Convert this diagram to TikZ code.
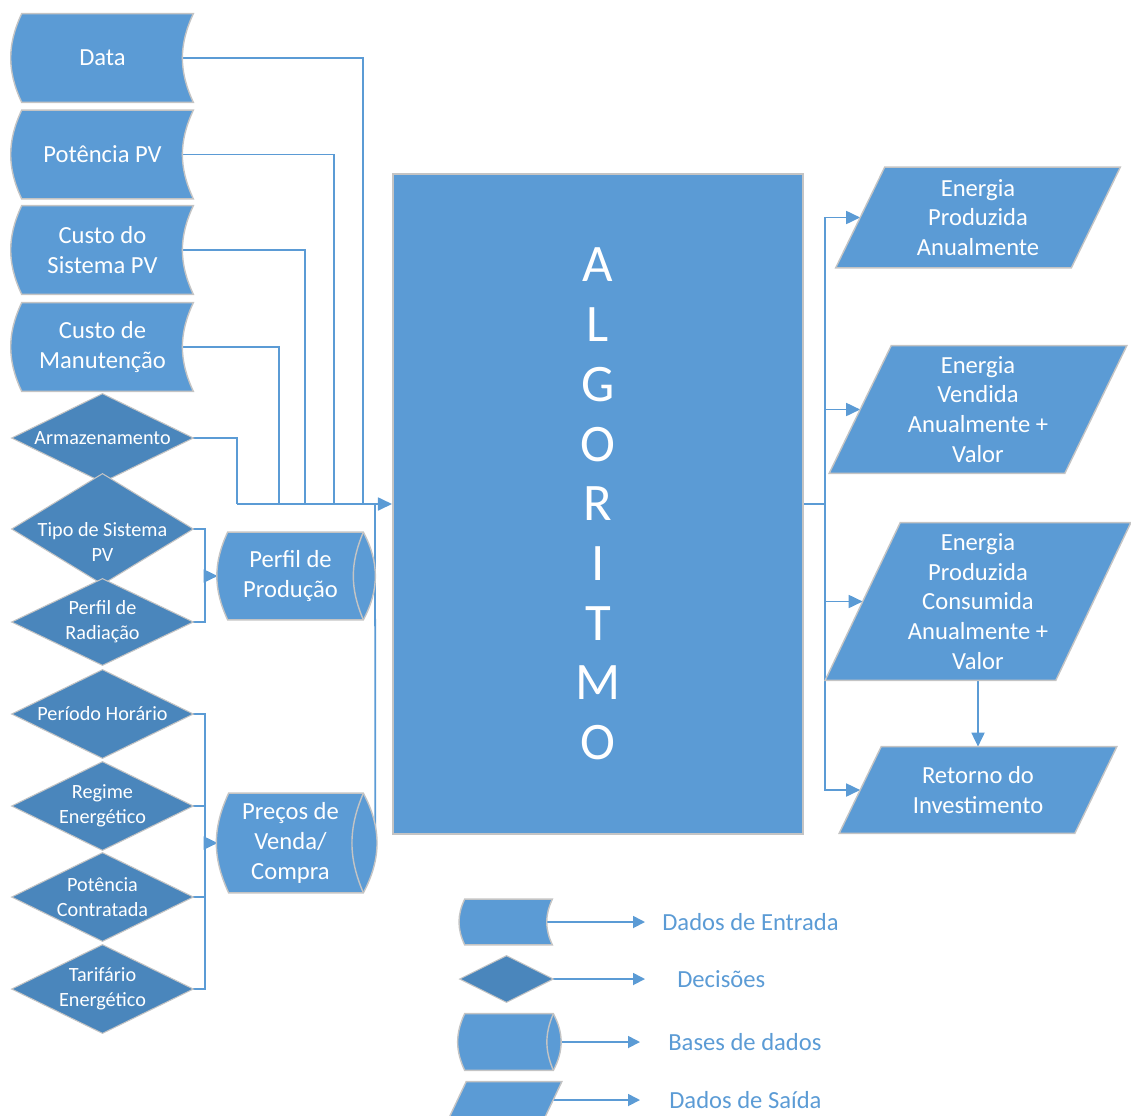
\documentclass[tikz,border=0pt]{standalone}
\usepackage{fontspec}
\setmainfont{Carlito}
\usetikzlibrary{arrows.meta}
\pgfdeclarelayer{lines}
\pgfdeclarelayer{shapes}
\pgfsetlayers{lines,shapes,main}
\definecolor{boxblue}{HTML}{5B9BD5}
\definecolor{decblue}{HTML}{4A86BC}
\definecolor{edgegray}{HTML}{C4C4C4}

\begin{document}
\begin{tikzpicture}[x=0.02cm,y=-0.02cm,>={Triangle[length=0.28cm,width=0.26cm]},
    txt/.style={text=white,align=center,inner sep=0pt},
    big/.style={font=\fontsize{14}{17}\selectfont},
    small/.style={font=\fontsize{11.5}{14.2}\selectfont},
    in node/.style={txt,big,minimum width=3.62cm,minimum height=1.76cm},
    dec node/.style={txt,small,minimum width=3.62cm,minimum height=1.76cm},
    db node/.style={txt,big,minimum width=2.9cm},
    out node/.style={txt,big},
    alg node/.style={rectangle,fill=boxblue,draw=edgegray,line width=1.2pt,txt,
        minimum width=8.2cm,minimum height=13.2cm,font=\fontsize{30}{34}\selectfont},
    leg text/.style={anchor=west,inner sep=0pt,text=boxblue,big},
    conn/.style={draw=boxblue,line width=1pt},
    small tip/.style={-{Triangle[length=0.24cm,width=0.24cm]}},
    inshape/.style={fill=boxblue,draw=edgegray,line width=0.8pt},
    decshape/.style={fill=decblue,draw=edgegray,line width=0.6pt}]
  \useasboundingbox (0,0) rectangle (1131,1115);

  % dados de entrada
  \node[in node] (data) at (102.5,58) {Data};
  \node[in node] (potpv) at (102.5,154.5) {Potência PV};
  \node[in node] (custpv) at (102.5,250) {Custo do\\Sistema PV};
  \node[in node] (custman) at (102.5,347) {Custo de\\Manutenção};

  % decisoes
  \node[dec node] (armaz) at (102.5,438) {Armazenamento};
  \node[dec node,minimum height=2.2cm,
        label={[txt,small,yshift=-0.26cm]center:{Tipo de Sistema\\PV}}] (tipo) at (102.5,529) {};
  \node[dec node,minimum height=1.72cm] (radia) at (102.5,622) {Perfil de\\Radiação};
  \node[dec node] (periodo) at (102.5,714) {Período Horário};
  \node[dec node] (regime) at (102.5,806) {Regime\\Energético};
  \node[dec node] (potcon) at (102.5,897) {Potência\\Contratada};
  \node[dec node] (tarif) at (102.5,989) {Tarifário\\Energético};

  % bases de dados
  \node[db node,minimum height=1.74cm] (perfil) at (290.5,576) {Perfil de\\Produção};
  \node[db node,minimum height=1.98cm] (precos) at (290.5,843) {Preços de\\Venda/\\Compra};

  % algoritmo
  \node[alg node] (alg) at (598,504) {A\\L\\G\\O\\R\\I\\T\\M\\O};

  % dados de saida
  \node[out node,minimum width=5.68cm,minimum height=2cm] (e1) at (978,217.5) {Energia\\Produzida\\Anualmente};
  \node[out node,minimum width=5.94cm,minimum height=2.54cm] (e2) at (978,409.5) {Energia\\Vendida\\Anualmente +\\Valor};
  \node[out node,minimum width=6.1cm,minimum height=3.14cm] (e3) at (978,601.5) {Energia\\Produzida\\Consumida\\Anualmente +\\Valor};
  \node[out node,minimum width=5.54cm,minimum height=1.72cm] (e4) at (978,790) {Retorno do\\Investimento};

  % legenda
  \node[in node,minimum width=1.84cm,minimum height=0.9cm] (lgin) at (506,922) {};
  \node[dec node,minimum width=1.86cm,minimum height=0.92cm] (lgdec) at (506.5,979) {};
  \node[db node,minimum width=1.86cm,minimum height=1.12cm] (lgdb) at (506.5,1042) {};
  \node[out node,minimum width=2.38cm,minimum height=1cm] (lgout) at (502,1107) {};
  \node[leg text] (ltin) at (662,922) {Dados de Entrada};
  \node[leg text] (ltdec) at (677,979) {Decisões};
  \node[leg text] (ltdb) at (668,1042) {Bases de dados};
  \node[leg text] (ltout) at (669,1100) {Dados de Saída};

  \begin{pgfonlayer}{shapes}
    \foreach \s/\k in {data/10,potpv/10,custpv/10,custman/10,lgin/5}
      \path[inshape] ([shift={(\k,0)}]\s.north west) -- (\s.north east)
        to[bend right=25] (\s.south east) -- ([shift={(\k,0)}]\s.south west)
        to[bend left=25] ([shift={(\k,0)}]\s.north west) -- cycle;
    \foreach \s/\k in {perfil/10,precos/11,lgdb/5} {
      \path[inshape] ([shift={(\k,0)}]\s.north west) -- (\s.north east)
        to[bend left=28] (\s.south east) -- ([shift={(\k,0)}]\s.south west)
        to[bend left=25] ([shift={(\k,0)}]\s.north west) -- cycle;
      \draw[edgegray,line width=0.8pt] (\s.north east) to[bend right=23] (\s.south east);
    }
    \foreach \s in {armaz,tipo,radia,periodo,regime,potcon,tarif,lgdec}
      \path[decshape] (\s.west) -- (\s.north) -- (\s.east) -- (\s.south) -- cycle;
    \foreach \s/\k in {e1/49,e2/62,e3/75,e4/42,lgout/24}
      \path[inshape] ([shift={(\k,0)}]\s.north west) -- (\s.north east)
        -- ([shift={(-\k,0)}]\s.south east) -- (\s.south west) -- cycle;
  \end{pgfonlayer}

  \begin{pgfonlayer}{lines}
    \coordinate (b1) at (363,504);
    \coordinate (b2) at (334,504);
    \coordinate (b3) at (305,504);
    \coordinate (b4) at (279,504);
    \coordinate (b5) at (237,504);
    \coordinate (b6) at (375,504);
    \coordinate (pj) at (205,576);
    \coordinate (qj) at (205,843);
    \coordinate (rj) at (825,504);
    \foreach \s/\b in {data/b1,potpv/b2,custpv/b3,custman/b4}
      \draw[conn] ([shift={(-11,0)}]\s.east) -| (\b);
    \draw[conn] (armaz.east) -| (b5);
    \draw[conn,->] (b5) -- (alg.west);
    \draw[conn] ([shift={(12,0)}]precos.east) -- (b6);
    \draw[conn] (tipo.east) -| (pj);
    \draw[conn] (radia.east) -| (pj);
    \draw[conn,->] (pj) -- (perfil.west);
    \foreach \s in {periodo,regime,potcon,tarif}
      \draw[conn] (\s.east) -| (qj);
    \draw[conn,->] (qj) -- (precos.west);
    \draw[conn] (alg.east) -- (rj);
    \foreach \e/\k in {e1/49,e2/62,e3/75,e4/42}
      \draw[conn,->] (rj) |- ([shift={(\k/2,0)}]\e.west);
    \draw[conn,->] (e3.south) -- (e4.north);
    % legenda
    \draw[conn,small tip,shorten >=0.34cm] ([shift={(-5,0)}]lgin.east) -- (ltin.west);
    \draw[conn,small tip,shorten >=0.64cm] (lgdec.east) -- (ltdec.west);
    \draw[conn,small tip,shorten >=0.56cm] (lgdb.east) -- (ltdb.west);
    \draw[conn,small tip,shorten >=0.58cm] ([shift={(-20,0)}]lgout.east |- ltout.west) -- (ltout.west);
  \end{pgfonlayer}
\end{tikzpicture}
\end{document}
